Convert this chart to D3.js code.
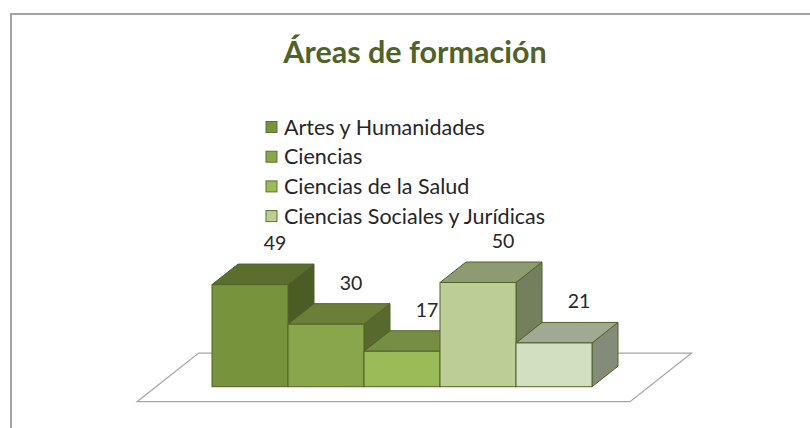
<!DOCTYPE html>
<html>
<head>
<meta charset="utf-8">
<script src="https://cdn.jsdelivr.net/npm/d3@7"></script>
<style>
  body { margin: 0; background: #fff; }
  svg text { font-family: Lato, "Open Sans", sans-serif; }
</style>
</head>
<body>
<div id="chart"></div>
<script>
// datos del gráfico
const categories = ["Artes y Humanidades", "Ciencias", "Ciencias de la Salud", "Ciencias Sociales y Jurídicas", "Ingeniería y Arquitectura"];
const values = [49, 30, 17, 50, 21];
const frontColors = ["#77933c", "#89a64b", "#9bbb59", "#bccd96", "#d3dfc1"];
const topColors = ["#5a6e2d", "#6a8038", "#758e44", "#8d9a72", "#a0a992"];
const sideColors = ["#4b5d25", "#57692d", "#617637", "#737f5d", "#858b79"];
const legendCount = 4; // la leyenda está cortada, solo se ven 4

const fullWidth = 810, fullHeight = 428;

const svg = d3.select("#chart")
    .append("svg")
    .attr("width", fullWidth)
    .attr("height", fullHeight);

// marco
svg.append("path")
    .attr("d", `M11,${fullHeight} V14 H${fullWidth}`)
    .attr("fill", "none")
    .attr("stroke", "#a3a3a3")
    .attr("stroke-width", 2);

// título
svg.append("text")
    .attr("x", 415)
    .attr("y", 63)
    .attr("text-anchor", "middle")
    .style("font-size", "30.5px")
    .style("font-weight", "bold")
    .style("fill", "#4f6228")
    .text("Áreas de formación");

let x = d3.scaleBand()
    .domain(categories)
    .range([212, 592])
    .padding(0);

let y = d3.scaleLinear()
    .domain([0, 50])
    .range([386.7, 282.5]);

// profundidad de la perspectiva
const depth = { dx: 26, dy: -20.5 };
const proj = (px, py, z) => [px + z * depth.dx, py + z * depth.dy];

// suelo
const [x0, x1] = x.range();
const floorPts = [
    proj(x0 - 56, y(0), -0.73),
    proj(x1 + 57, y(0), -0.73),
    proj(x1 + 57, y(0), 1.64),
    proj(x0 - 56, y(0), 1.64)
];
svg.append("polygon")
    .attr("points", floorPts.map(p => p.join(",")).join(" "))
    .attr("fill", "#fff")
    .attr("stroke", "#a6a6a6")
    .attr("stroke-width", 1.2);

let data = categories.map((c, i) => ({ cat: c, value: values[i], i: i }));

let bars = svg.selectAll(".bar")
    .data(data)
    .enter()
    .append("g")
    .attr("class", "bar");

const pts = arr => arr.map(p => p.join(",")).join(" ");

// cara lateral
bars.append("polygon")
    .attr("points", d => {
        let r = x(d.cat) + x.bandwidth();
        return pts([proj(r, y(d.value), 0), proj(r, y(d.value), 1), proj(r, y(0), 1), proj(r, y(0), 0)]);
    })
    .attr("fill", d => sideColors[d.i])
    .attr("stroke", "#4f6228")
    .attr("stroke-width", 1)
    .attr("stroke-linejoin", "round");

// cara superior
bars.append("polygon")
    .attr("points", d => {
        let l = x(d.cat), r = l + x.bandwidth();
        return pts([proj(l, y(d.value), 0), proj(l, y(d.value), 1), proj(r, y(d.value), 1), proj(r, y(d.value), 0)]);
    })
    .attr("fill", d => topColors[d.i])
    .attr("stroke", "#4f6228")
    .attr("stroke-width", 1)
    .attr("stroke-linejoin", "round");

// cara frontal
bars.append("rect")
    .attr("x", d => x(d.cat))
    .attr("y", d => y(d.value))
    .attr("width", x.bandwidth())
    .attr("height", d => y(0) - y(d.value))
    .attr("fill", d => frontColors[d.i])
    .attr("stroke", "#4f6228")
    .attr("stroke-width", 1);

// etiquetas
svg.selectAll(".bar-label")
    .data(data)
    .enter()
    .append("text")
    .attr("class", "bar-label")
    .attr("x", d => x(d.cat) + x.bandwidth() / 2 + 25)
    .attr("y", d => y(d.value) + depth.dy - 14)
    .attr("text-anchor", "middle")
    .style("font-size", "19.5px")
    .style("fill", "#262626")
    .text(d => d.value);

// leyenda
let legend = svg.selectAll(".legend")
    .data(data.slice(0, legendCount))
    .enter()
    .append("g")
    .attr("class", "legend")
    .attr("transform", (d, i) => `translate(266,${127 + i * 29.7})`);

legend.append("rect")
    .attr("x", 0)
    .attr("y", -5.5)
    .attr("width", 11)
    .attr("height", 11)
    .attr("fill", d => frontColors[d.i])
    .attr("stroke", "#5c7230")
    .attr("stroke-width", 1);

legend.append("text")
    .attr("x", 18)
    .attr("y", 7.5)
    .style("font-size", "21.5px")
    .style("fill", "#262626")
    .text(d => d.cat);
</script>
</body>
</html>
